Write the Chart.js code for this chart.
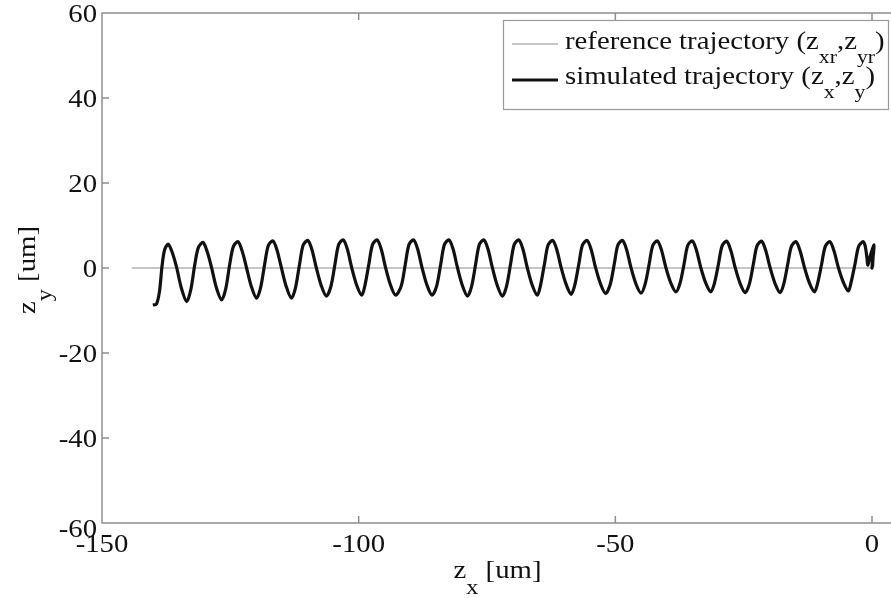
<!DOCTYPE html>
<html lang="en">
<head>
  <meta charset="UTF-8" />
  <title>Trajectory tracking</title>
  <style>
    html, body { margin: 0; padding: 0; background: #fff; }
    #wrap { width: 891px; height: 598px; }
  </style>
</head>
<body>
  <div id="wrap"><canvas id="trajChart" width="891" height="598"></canvas></div>

  <script src="https://cdn.jsdelivr.net/npm/chart.js"></script>

  <script>
    // axis ticks
    const xTicks = [-150, -100, -50, 0];
    const yTicks = [-60, -40, -20, 0, 20, 40, 60];

    // reference trajectory (z_xr, z_yr)
    const refX = [-144.2, 0];
    const refY = [0, 0];

    // simulated trajectory (z_x, z_y)
    const simX = [
      -140.1, -139.4, -138.8, -138.3, -137.8,
      -137.1, -136.3, -135.5, -134.5, -133.5, -132.7, -131.9, -131.2,
      -130.3, -129.5, -128.7, -127.7, -126.7, -125.9, -125.1, -124.4,
      -123.5, -122.7, -121.9, -120.9, -119.9, -119.1, -118.3, -117.6,
      -116.7, -115.9, -115.1, -114.1, -113.1, -112.3, -111.5, -110.8,
      -109.9, -109.1, -108.3, -107.3, -106.3, -105.4, -104.6, -103.9,
      -103.0, -102.2, -101.4, -100.4, -99.4, -98.8, -98.0, -97.3,
      -96.4, -95.6, -94.8, -93.8, -92.8, -91.7, -90.9, -90.2,
      -89.3, -88.5, -87.7, -86.7, -85.7, -84.8, -84.0, -83.3,
      -82.4, -81.6, -80.8, -79.8, -78.8, -78.0, -77.2, -76.5,
      -75.6, -74.8, -74.0, -73.0, -72.0, -71.2, -70.4, -69.7,
      -68.8, -68.0, -67.2, -66.2, -65.2, -64.6, -63.8, -63.1,
      -62.2, -61.4, -60.6, -59.6, -58.6, -57.9, -57.1, -56.4,
      -55.5, -54.7, -53.9, -52.9, -51.9, -51.0, -50.2, -49.5,
      -48.6, -47.8, -47.0, -46.0, -45.0, -44.2, -43.4, -42.7,
      -41.8, -41.0, -40.2, -39.2, -38.2, -37.4, -36.6, -35.9,
      -35.0, -34.2, -33.4, -32.4, -31.4, -30.7, -29.9, -29.2,
      -28.3, -27.5, -26.7, -25.7, -24.7, -23.9, -23.1, -22.4,
      -21.5, -20.7, -19.9, -18.9, -17.9, -17.2, -16.4, -15.7,
      -14.8, -14.0, -13.2, -12.2, -11.2, -10.6, -9.8, -9.1,
      -8.2, -7.4, -6.6, -5.6, -4.6, -4.1, -3.3, -2.6,
      -1.7, -1.3, -1.0, -0.8, -0.3, 0.4, 0.2, 0.0, 0.3, 0.1
    ];
    const simY = [
      -8.7, -8.5, -5.5, 0.5, 4.3,
      5.6, 3.6, 0.3, -4.9, -7.9, -5.1, 1.0, 4.9,
      6.0, 3.8, 0.3, -4.7, -7.5, -4.9, 1.0, 5.1,
      6.2, 4.0, 0.3, -4.4, -7.1, -4.6, 1.0, 5.3,
      6.4, 4.2, 0.3, -4.4, -7.1, -4.6, 1.0, 5.4,
      6.5, 4.3, 0.3, -4.1, -6.6, -4.3, 1.0, 5.5,
      6.6, 4.4, 0.3, -4.0, -6.4, -4.2, 1.0, 5.5,
      6.6, 4.4, 0.3, -4.0, -6.4, -4.2, 1.0, 5.5,
      6.6, 4.4, 0.3, -4.0, -6.4, -4.2, 1.0, 5.5,
      6.6, 4.4, 0.3, -4.1, -6.6, -4.3, 1.0, 5.5,
      6.6, 4.4, 0.3, -4.1, -6.6, -4.3, 1.0, 5.5,
      6.6, 4.4, 0.3, -4.0, -6.4, -4.2, 1.0, 5.4,
      6.5, 4.3, 0.3, -3.8, -6.2, -4.0, 1.0, 5.4,
      6.5, 4.3, 0.3, -3.7, -6.0, -3.9, 1.0, 5.4,
      6.5, 4.3, 0.3, -3.7, -5.9, -3.8, 1.0, 5.3,
      6.4, 4.2, 0.3, -3.5, -5.6, -3.6, 1.0, 5.3,
      6.4, 4.2, 0.3, -3.5, -5.6, -3.6, 1.0, 5.2,
      6.3, 4.1, 0.3, -3.6, -5.8, -3.8, 1.0, 5.2,
      6.3, 4.1, 0.3, -3.6, -5.8, -3.8, 1.0, 5.1,
      6.2, 4.0, 0.3, -3.5, -5.6, -3.6, 1.0, 5.1,
      6.2, 4.0, 0.3, -3.3, -5.4, -3.5, 1.0, 5.1,
      6.2, 5.0, 2.5, 0.7, 3.0, 5.4, 2.5, 0.0, 4.5, 0.3
    ];

    const SERIF = '"Liberation Serif", "Times New Roman", serif';
    const AXIS_GRAY = '#8e8e8e';
    const SX = 1.15;   // the source figure was stretched sideways, text too

    function textW(ctx, parts, size, subSize) {
      let w = 0;
      parts.forEach(p => {
        ctx.font = (p.sub ? subSize : size) + 'px ' + SERIF;
        w += ctx.measureText(p.t).width;
      });
      return w * SX;
    }

    // text pieces, some as subscripts, starting at x (left aligned)
    function drawRich(ctx, parts, x, y, size, subSize, subDrop) {
      ctx.save();
      ctx.translate(x, y);
      ctx.scale(SX, 1);
      ctx.textAlign = 'left';
      let cx = 0;
      parts.forEach(p => {
        ctx.font = (p.sub ? subSize : size) + 'px ' + SERIF;
        ctx.fillText(p.t, cx, p.sub ? subDrop : 0);
        cx += ctx.measureText(p.t).width;
      });
      ctx.restore();
    }

    function drawLabel(ctx, str, x, y, align, size) {
      ctx.save();
      ctx.translate(x, y);
      ctx.scale(SX, 1);
      ctx.font = size + 'px ' + SERIF;
      ctx.textAlign = align;
      ctx.textBaseline = 'middle';
      ctx.fillText(str, 0, 0);
      ctx.restore();
    }

    // MATLAB-ish box with inward ticks, labels and legend
    const frame = {
      id: 'frame',
      beforeDatasetsDraw(chart) {
        const { ctx, chartArea: a, scales: { x, y } } = chart;
        ctx.save();
        ctx.strokeStyle = AXIS_GRAY;
        ctx.lineWidth = 1.5;
        ctx.beginPath();
        ctx.moveTo(a.right, a.top);
        ctx.lineTo(a.left, a.top);
        ctx.lineTo(a.left, a.bottom);
        ctx.lineTo(a.right, a.bottom);
        xTicks.forEach(v => {
          const px = x.getPixelForValue(v);
          ctx.moveTo(px, a.bottom); ctx.lineTo(px, a.bottom - 7);
          ctx.moveTo(px, a.top); ctx.lineTo(px, a.top + 7);
        });
        yTicks.forEach(v => {
          const py = y.getPixelForValue(v);
          ctx.moveTo(a.left, py); ctx.lineTo(a.left + 7, py);
        });
        ctx.stroke();
        ctx.restore();
      },
      afterDraw(chart) {
        const { ctx, chartArea: a, scales: { x, y } } = chart;
        ctx.save();
        ctx.fillStyle = '#111';

        // tick labels
        xTicks.forEach(v => {
          drawLabel(ctx, String(v), x.getPixelForValue(v), a.bottom + 22, 'center', 25);
        });
        yTicks.forEach(v => {
          const drop = v === yTicks[0] ? 7 : 2;
          drawLabel(ctx, String(v), a.left - 5, y.getPixelForValue(v) + drop, 'right', 25);
        });

        ctx.textBaseline = 'alphabetic';

        // x axis title
        const xt = [{ t: 'z' }, { t: 'x', sub: true }, { t: ' [um]' }];
        const xw = textW(ctx, xt, 25, 21);
        drawRich(ctx, xt, 497.5 - xw / 2, 578, 25, 21, 16);

        // y axis title (rotated)
        const yt = [{ t: 'z' }, { t: 'y', sub: true }, { t: ' [um]' }];
        const yw = textW(ctx, yt, 25, 21);
        ctx.save();
        ctx.translate(35, 270);
        ctx.rotate(-Math.PI / 2);
        drawRich(ctx, yt, -yw / 2, 0, 25, 21, 16);
        ctx.restore();

        // legend
        const ds = chart.data.datasets;
        const box = { x: 503.5, y: 20.5, w: 385, h: 89 };
        ctx.fillStyle = '#fff';
        ctx.fillRect(box.x, box.y, box.w, box.h);
        ctx.strokeStyle = '#999';
        ctx.lineWidth = 1.2;
        ctx.strokeRect(box.x, box.y, box.w, box.h);

        const rows = [
          { ds: ds[1], y: 44, base: 49,
            parts: [{ t: 'reference trajectory (z' }, { t: 'xr', sub: true }, { t: ',z' }, { t: 'yr', sub: true }, { t: ')' }] },
          { ds: ds[0], y: 80, base: 84,
            parts: [{ t: 'simulated trajectory (z' }, { t: 'x', sub: true }, { t: ',z' }, { t: 'y', sub: true }, { t: ')' }] }
        ];
        rows.forEach(r => {
          ctx.strokeStyle = r.ds.borderColor;
          ctx.lineWidth = r.ds.borderWidth;
          ctx.beginPath();
          ctx.moveTo(512, r.y);
          ctx.lineTo(558, r.y);
          ctx.stroke();
          ctx.fillStyle = '#111';
          drawRich(ctx, r.parts, 565, r.base, 25, 19, 14);
        });
        ctx.restore();
      }
    };

    const ctx = document.getElementById('trajChart').getContext('2d');
    new Chart(ctx, {
      type: 'scatter',
      data: {
        datasets: [
          {
            label: 'simulated trajectory',
            data: simX.map((v, i) => ({ x: v, y: simY[i] })),
            showLine: true,
            borderColor: '#111111',
            borderWidth: 3.2,
            pointRadius: 0,
            tension: 0.3
          },
          {
            label: 'reference trajectory',
            data: refX.map((v, i) => ({ x: v, y: refY[i] })),
            showLine: true,
            borderColor: '#c6c6c6',
            borderWidth: 2.2,
            pointRadius: 0,
            tension: 0
          }
        ]
      },
      options: {
        responsive: false,
        animation: false,
        devicePixelRatio: 1,
        layout: { padding: { top: 13, right: 0, bottom: 0, left: 0 } },
        plugins: {
          legend: { display: false },
          tooltip: { enabled: false }
        },
        scales: {
          x: {
            type: 'linear',
            min: -150,
            max: 3.7,
            grid: { display: false },
            border: { display: false },
            afterBuildTicks: s => { s.ticks = xTicks.map(v => ({ value: v })); },
            afterFit: s => { s.height = 75; },
            ticks: { display: false }
          },
          y: {
            type: 'linear',
            min: -60,
            max: 60,
            grid: { display: false },
            border: { display: false },
            afterBuildTicks: s => { s.ticks = yTicks.map(v => ({ value: v })); },
            afterFit: s => { s.width = 102; },
            ticks: { display: false }
          }
        }
      },
      plugins: [frame]
    });
  </script>
</body>
</html>
